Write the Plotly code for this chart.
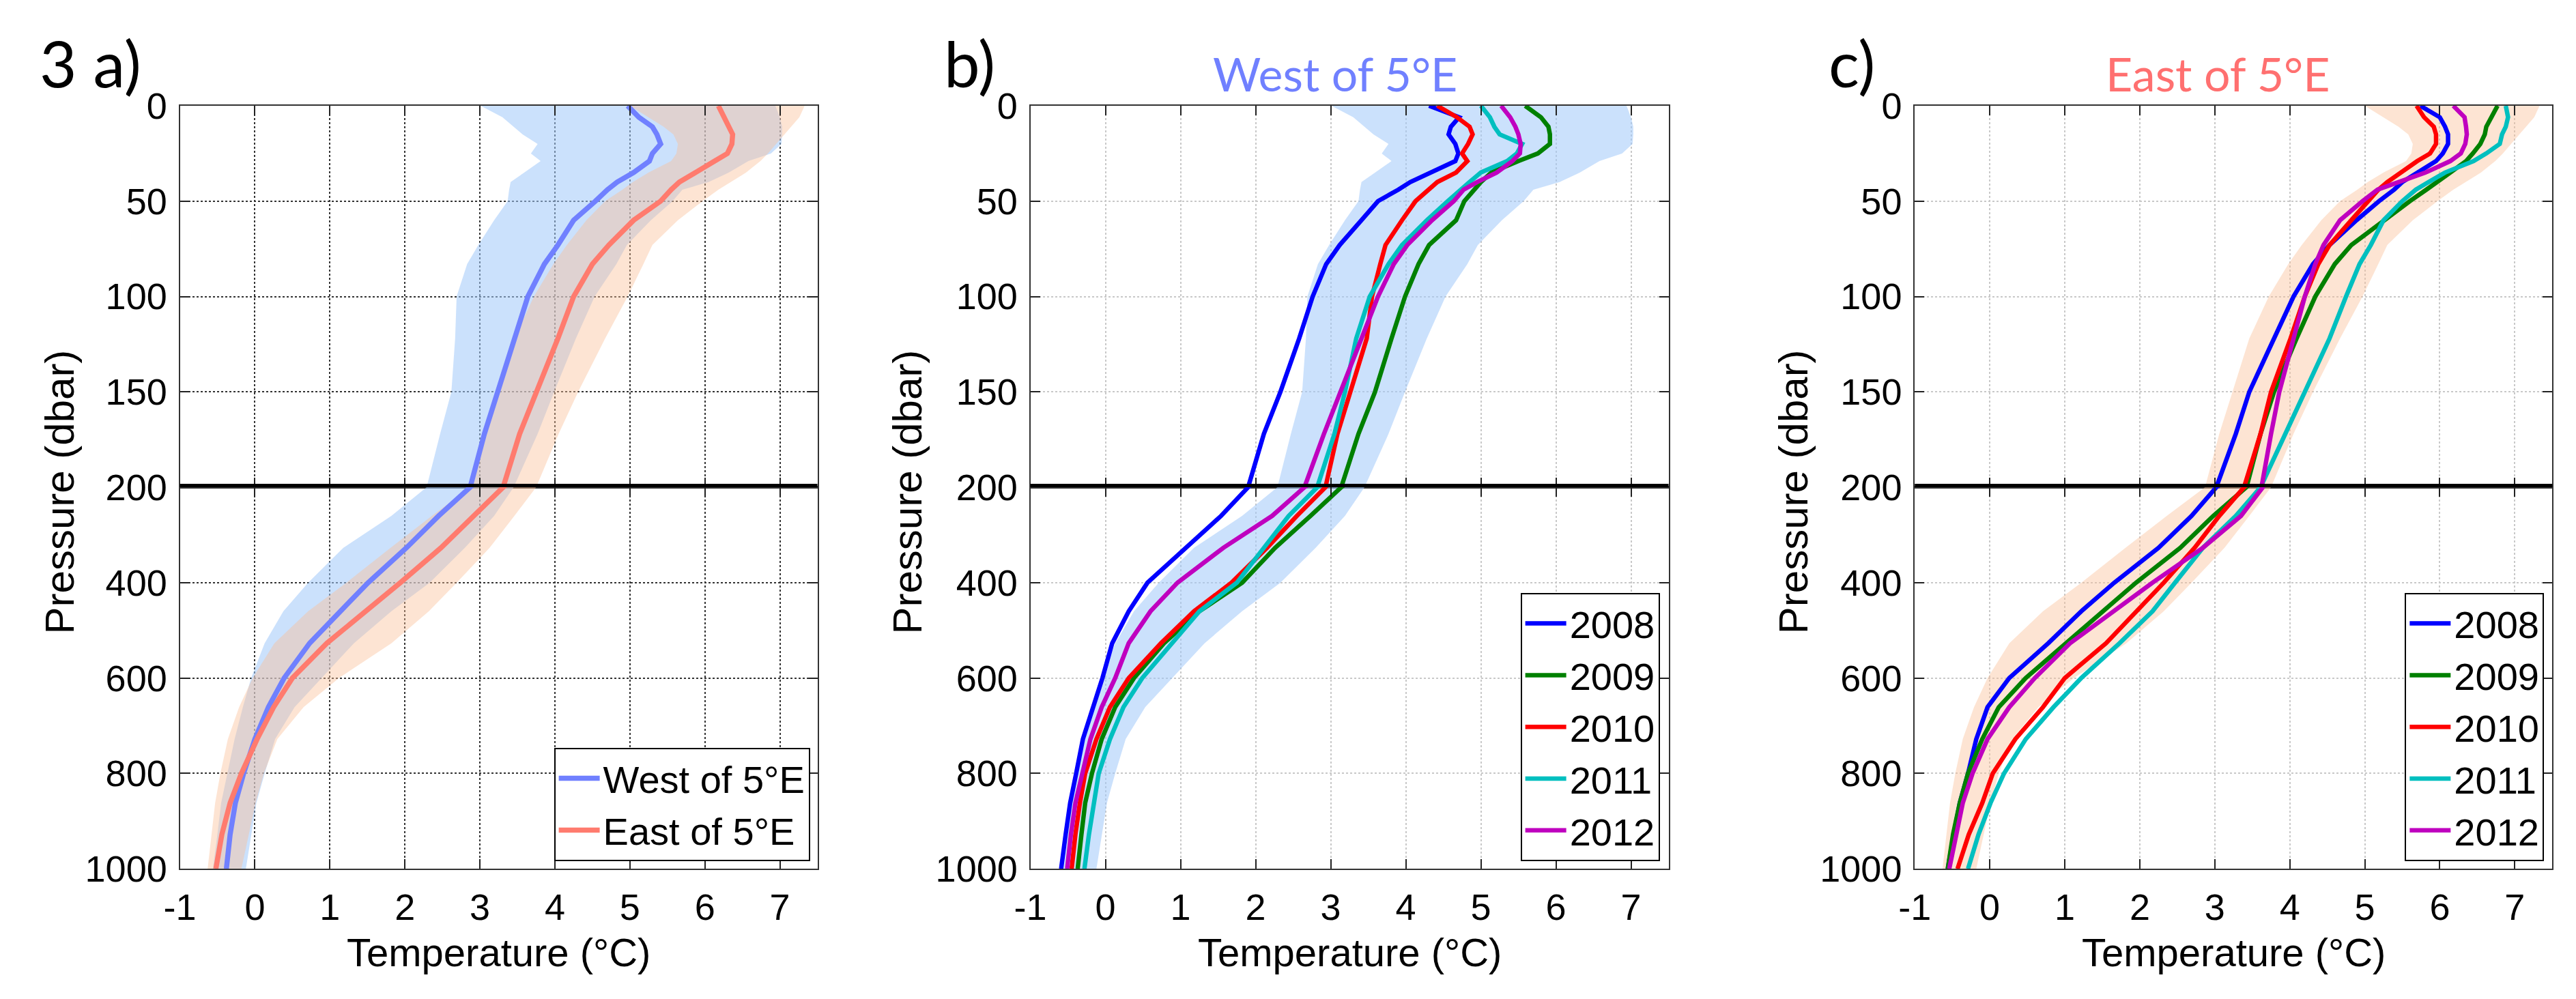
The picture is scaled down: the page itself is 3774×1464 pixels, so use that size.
import plotly.graph_objects as go

# ---------------- data ----------------
P = [0, 6, 11, 15, 20, 25, 29, 35, 40, 44, 50, 60, 73, 83, 100, 122, 150, 172, 200,
     260, 327, 400, 460, 527, 600, 661, 728, 800, 862, 928, 1000]

west_mean = [4.97, 5.12, 5.30, 5.36, 5.41, 5.30, 5.26, 5.05, 4.83, 4.70, 4.54, 4.25, 4.04, 3.86, 3.64, 3.46, 3.24, 3.06, 2.87,
             2.45, 2.02, 1.51, 1.14, 0.73, 0.39, 0.18, 0.00, -0.15, -0.26, -0.33, -0.38]
east_mean = [6.18, 6.26, 6.33, 6.37, 6.36, 6.30, 6.13, 5.88, 5.66, 5.55, 5.41, 5.05, 4.72, 4.50, 4.25, 4.04, 3.75, 3.53, 3.31,
             2.92, 2.48, 1.94, 1.48, 0.96, 0.50, 0.25, 0.03, -0.18, -0.33, -0.44, -0.52]

west_lo = [3.01, 3.30, 3.45, 3.57, 3.77, 3.68, 3.81, 3.59, 3.41, 3.39, 3.37, 3.19, 2.98, 2.83, 2.69, 2.67, 2.62, 2.47, 2.29,
           1.82, 1.18, 0.71, 0.38, 0.13, -0.05, -0.16, -0.27, -0.37, -0.45, -0.50, -0.56]
west_hi = [6.94, 7.00, 7.03, 7.03, 7.02, 6.88, 6.58, 6.32, 6.05, 5.70, 5.57, 5.28, 4.96, 4.82, 4.53, 4.28, 3.99, 3.77, 3.45,
           3.19, 2.80, 2.33, 1.82, 1.32, 0.89, 0.53, 0.27, 0.13, 0.02, -0.05, -0.12]
east_lo = [5.00, 5.25, 5.45, 5.58, 5.64, 5.62, 5.55, 5.25, 5.04, 4.90, 4.67, 4.42, 4.16, 3.98, 3.72, 3.46, 3.24, 3.06, 2.87,
           2.36, 1.81, 1.22, 0.71, 0.26, -0.03, -0.21, -0.36, -0.46, -0.53, -0.58, -0.63]
east_hi = [7.33, 7.26, 7.15, 7.06, 6.95, 6.84, 6.74, 6.55, 6.35, 6.18, 5.97, 5.64, 5.30, 5.18, 4.97, 4.67, 4.31, 4.05, 3.75,
           3.46, 3.13, 2.69, 2.32, 1.82, 1.12, 0.65, 0.30, 0.12, 0.01, -0.08, -0.18]

years = ["2008", "2009", "2010", "2011", "2012"]
year_colors = ["#0000ff", "#008000", "#ff0000", "#00bfbf", "#bf00bf"]

west_2008 = [4.31, 4.71, 4.60, 4.57, 4.66, 4.70, 4.66, 4.35, 4.06, 3.90, 3.63, 3.41, 3.12, 2.94, 2.76, 2.58, 2.33, 2.11, 1.90,
             1.54, 1.07, 0.56, 0.31, 0.09, -0.04, -0.16, -0.30, -0.39, -0.47, -0.53, -0.59]
west_2009 = [5.59, 5.80, 5.90, 5.92, 5.92, 5.76, 5.50, 5.14, 5.00, 4.91, 4.78, 4.67, 4.31, 4.17, 3.99, 3.81, 3.59, 3.37, 3.14,
             2.73, 2.26, 1.82, 1.25, 0.78, 0.38, 0.13, -0.05, -0.18, -0.27, -0.32, -0.37]
west_2010 = [4.42, 4.68, 4.85, 4.89, 4.83, 4.75, 4.82, 4.67, 4.42, 4.30, 4.13, 3.95, 3.73, 3.66, 3.55, 3.48, 3.27, 3.09, 2.93,
             2.55, 2.15, 1.68, 1.18, 0.74, 0.31, 0.06, -0.12, -0.27, -0.34, -0.40, -0.45]
west_2011 = [5.00, 5.12, 5.18, 5.25, 5.55, 5.48, 5.35, 5.00, 4.85, 4.73, 4.56, 4.28, 3.95, 3.77, 3.52, 3.34, 3.19, 3.05, 2.82,
             2.44, 2.11, 1.75, 1.25, 0.89, 0.49, 0.24, 0.06, -0.09, -0.16, -0.22, -0.28]
west_2012 = [5.27, 5.39, 5.46, 5.50, 5.53, 5.52, 5.42, 5.21, 4.95, 4.77, 4.64, 4.35, 4.02, 3.84, 3.63, 3.41, 3.12, 2.91, 2.65,
             2.22, 1.57, 0.96, 0.60, 0.31, 0.13, -0.05, -0.20, -0.30, -0.40, -0.46, -0.51]

east_2008 = [5.74, 6.00, 6.07, 6.11, 6.11, 6.04, 5.95, 5.70, 5.50, 5.39, 5.19, 4.89, 4.53, 4.31, 4.05, 3.79, 3.46, 3.28, 3.02,
             2.69, 2.25, 1.66, 1.22, 0.78, 0.26, -0.03, -0.18, -0.29, -0.40, -0.48, -0.56]
east_2009 = [6.77, 6.68, 6.62, 6.60, 6.54, 6.44, 6.35, 6.14, 5.95, 5.82, 5.60, 5.25, 4.82, 4.60, 4.34, 4.09, 3.79, 3.61, 3.42,
             2.98, 2.54, 1.95, 1.51, 1.00, 0.48, 0.12, -0.10, -0.29, -0.40, -0.49, -0.56]
east_2010 = [5.69, 5.79, 5.92, 5.95, 5.95, 5.87, 5.70, 5.48, 5.30, 5.18, 5.04, 4.82, 4.53, 4.38, 4.20, 4.01, 3.75, 3.61, 3.39,
             3.06, 2.73, 2.32, 1.95, 1.55, 1.00, 0.71, 0.34, 0.04, -0.10, -0.28, -0.43]
east_2011 = [6.88, 6.91, 6.88, 6.83, 6.80, 6.62, 6.45, 6.07, 5.85, 5.68, 5.50, 5.25, 5.08, 4.93, 4.75, 4.53, 4.20, 3.94, 3.61,
             3.28, 2.84, 2.47, 2.17, 1.73, 1.22, 0.85, 0.48, 0.19, 0.01, -0.15, -0.29]
east_2012 = [6.18, 6.33, 6.35, 6.36, 6.34, 6.28, 6.14, 5.81, 5.45, 5.17, 4.97, 4.67, 4.45, 4.34, 4.20, 4.05, 3.86, 3.75, 3.64,
             3.35, 2.84, 2.17, 1.66, 1.07, 0.60, 0.26, -0.03, -0.23, -0.36, -0.45, -0.54]

x_ticks = [-1, 0, 1, 2, 3, 4, 5, 6, 7]
x_tick_labels = ["-1", "0", "1", "2", "3", "4", "5", "6", "7"]
y_ticks_top = [0, 50, 100, 150, 200]
y_ticks_bot = [400, 600, 800, 1000]

# ---------------- styling ----------------
W, H = 3774, 1464
WEST_LINE = "#7080ff"
EAST_LINE = "#ff7b6e"
WEST_FILL = "rgba(160,200,250,0.55)"
EAST_FILL = "rgba(250,190,150,0.42)"
FONT = "Liberation Sans, Arial, sans-serif"
TITLE_FONT = "Lato, Open Sans, sans-serif"
TICK_SIZE = 54

panels_px = [(233, 1173), (1487, 2428), (2791, 3731)]
top_px, mid_px, bot_px = 122, 705, 1288

fig = go.Figure()


def axes(i, part):
    k = 2 * i + 1 + (0 if part == "top" else 1)
    return ("x" if k == 1 else f"x{k}"), ("y" if k == 1 else f"y{k}")


def add_band(i, lo, hi, color):
    for part in ("top", "bot"):
        xa, ya = axes(i, part)
        fig.add_trace(go.Scatter(x=lo + hi[::-1], y=P + P[::-1], fill="toself",
                                 fillcolor=color, line=dict(width=0), mode="lines",
                                 hoverinfo="skip", showlegend=False, xaxis=xa, yaxis=ya))


def add_line(i, x, name, color, width, legend):
    for part in ("top", "bot"):
        xa, ya = axes(i, part)
        fig.add_trace(go.Scatter(x=x, y=P, mode="lines", name=name,
                                 line=dict(color=color, width=width),
                                 showlegend=(part == "bot"), legend=legend,
                                 xaxis=xa, yaxis=ya))


# panel a
add_band(0, west_lo, west_hi, WEST_FILL)
add_band(0, east_lo, east_hi, EAST_FILL)
add_line(0, west_mean, "West of 5°E", WEST_LINE, 7.5, "legend")
add_line(0, east_mean, "East of 5°E", EAST_LINE, 7.5, "legend")

# panel b
add_band(1, west_lo, west_hi, WEST_FILL)
for yr, col, vals in zip(years, year_colors, [west_2008, west_2009, west_2010, west_2011, west_2012]):
    add_line(1, vals, yr, col, 6.5, "legend2")

# panel c
add_band(2, east_lo, east_hi, EAST_FILL)
for yr, col, vals in zip(years, year_colors, [east_2008, east_2009, east_2010, east_2011, east_2012]):
    add_line(2, vals, yr, col, 6.5, "legend3")

layout = dict(width=W, height=H, margin=dict(l=0, r=0, t=0, b=0),
              paper_bgcolor="white", plot_bgcolor="white",
              font=dict(family=FONT, size=TICK_SIZE, color="black"))

ydom_top = [1 - mid_px / H, 1 - top_px / H]
ydom_bot = [1 - bot_px / H, 1 - mid_px / H]

shapes = []
for i, (l, r) in enumerate(panels_px):
    xdom = [l / W, r / W]
    if i == 0:
        grid = dict(gridcolor="#333333", griddash="dot", gridwidth=1.5)
    else:
        grid = dict(gridcolor="#c8c8c8", griddash="dot", gridwidth=1.5)
    for part in ("top", "bot"):
        xa, ya = axes(i, part)
        xkey = "xaxis" + xa[1:]
        ykey = "yaxis" + ya[1:]
        layout[xkey] = dict(domain=xdom, anchor=ya, range=[-1, 7.5], tickvals=x_ticks,
                            ticktext=x_tick_labels,
                            showticklabels=(part == "bot"), ticks="inside", ticklen=14,
                            tickwidth=2, tickcolor="#222", showline=True, linecolor="#333",
                            linewidth=2, mirror="ticks", zeroline=False, showgrid=True,
                            ticklabelstandoff=8, tickfont=dict(size=TICK_SIZE), **grid)
        layout[ykey] = dict(domain=ydom_top if part == "top" else ydom_bot, anchor=xa,
                            range=[200, 0] if part == "top" else [1000, 200],
                            tickvals=y_ticks_top if part == "top" else y_ticks_bot,
                            ticks="inside", ticklen=14, tickwidth=2, tickcolor="#222",
                            showline=True, linecolor="#333", linewidth=2, mirror="ticks",
                            zeroline=False, showgrid=True, ticklabelstandoff=6,
                            tickfont=dict(size=TICK_SIZE), **grid)
    xa, ya = axes(i, "top")
    shapes.append(dict(type="line", xref=xa + " domain", x0=0, x1=1, yref=ya, y0=200, y1=200,
                       line=dict(color="black", width=10), layer="above"))

layout["shapes"] = shapes

legend_common = dict(xanchor="right", yanchor="bottom", bordercolor="black", borderwidth=2,
                     bgcolor="white", font=dict(size=56, family=FONT), tracegroupgap=0,
                     itemwidth=60)
layout["legend"] = dict(x=1162 / W, y=1 - 1276 / H, **legend_common)
layout["legend2"] = dict(x=2415 / W, y=1 - 1276 / H, **legend_common)
layout["legend3"] = dict(x=3719 / W, y=1 - 1276 / H, **legend_common)

ann = []
for i, (l, r) in enumerate(panels_px):
    cx = (l + r) / 2 / W
    ann.append(dict(text="Temperature (°C)", x=cx, y=1 - 1416 / H, xref="paper", yref="paper",
                    xanchor="center", yanchor="middle", showarrow=False,
                    font=dict(size=58, family=FONT)))
ylab_x = [56, 1306, 2612]
for xpx in ylab_x:
    ann.append(dict(text="Pressure (dbar)", x=xpx / W, y=1 - 712 / H, xref="paper", yref="paper",
                    xanchor="center", yanchor="middle", textangle=-90, showarrow=False,
                    font=dict(size=60, family=FONT)))
for txt, xpx in [("3 a)", 24), ("b)", 1358), ("c)", 2662)]:
    ann.append(dict(text=txt, x=xpx / W, y=1 - 56 / H, xref="paper", yref="paper",
                    xanchor="left", yanchor="middle", showarrow=False,
                    font=dict(size=94, family=TITLE_FONT, color="black")))
ann.append(dict(text="West of 5°E", x=1936 / W, y=1 - 72 / H, xref="paper", yref="paper",
                xanchor="center", yanchor="middle", showarrow=False,
                font=dict(size=68, family=TITLE_FONT, color=WEST_LINE)))
ann.append(dict(text="East of 5°E", x=3238 / W, y=1 - 72 / H, xref="paper", yref="paper",
                xanchor="center", yanchor="middle", showarrow=False,
                font=dict(size=68, family=TITLE_FONT, color="#ff7070")))
layout["annotations"] = ann

fig.update_layout(**layout)
fig.write_html("out.html")
